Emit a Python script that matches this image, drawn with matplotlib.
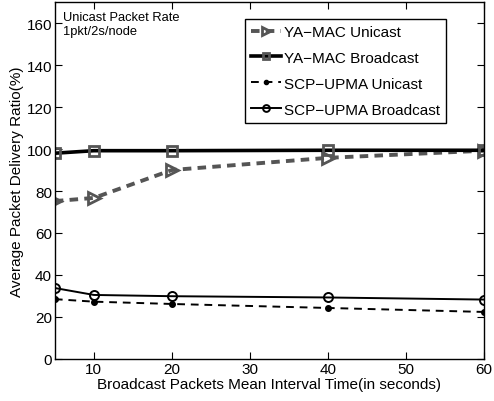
import matplotlib
matplotlib.use("Agg")
import matplotlib.pyplot as plt

x = [5, 10, 20, 40, 60]
ya_uni = [75.2, 76.7, 90.0, 95.8, 99.2]
ya_bc = [98.0, 99.2, 99.2, 99.4, 99.4]
scp_uni = [28.5, 27.3, 26.2, 24.3, 22.4]
scp_bc = [33.8, 30.5, 29.9, 29.3, 28.3]

xticks = [10, 20, 30, 40, 50, 60]
yticks = [0, 20, 40, 60, 80, 100, 120, 140, 160]

plt.rcParams['font.family'] = ['Liberation Sans', 'DejaVu Sans']

fig = plt.figure(figsize=(4.94, 4.02), dpi=100)
ax = fig.add_axes([0.111, 0.1045, 0.869, 0.888])

gray = '#555555'
ax.plot(x, ya_uni, linestyle=(0, (2.2, 1.6)), color=gray, lw=2.8, marker='>',
        ms=8, mfc='none', mec=gray, mew=2.0, label='YA\u2212MAC Unicast')
ax.plot(x, ya_bc, linestyle='-', color='black', lw=2.6, marker='s',
        ms=6.5, mfc='none', mec=gray, mew=2.0, label='YA\u2212MAC Broadcast')
ax.plot(x, scp_uni, linestyle=(0, (4, 3)), color='black', lw=1.4, marker='o',
        ms=4, mfc='black', mec='black', label='SCP\u2212UPMA Unicast')
ax.plot(x, scp_bc, linestyle='-', color='black', lw=1.4, marker='o',
        ms=6.5, mfc='none', mec='black', mew=1.4, label='SCP\u2212UPMA Broadcast')

ax.set_xlim(5, 60)
ax.set_ylim(0, 170)
ax.set_xticks(xticks)
ax.set_yticks(yticks)
ax.tick_params(direction='in', top=True, right=True, labelsize=11, length=5, pad=2)
for s in ax.spines.values():
    s.set_linewidth(1.0)

ax.set_xlabel('Broadcast Packets Mean Interval Time(in seconds)', fontsize=11, labelpad=1)
ax.set_ylabel('Average Packet Delivery Ratio(%)', fontsize=11, labelpad=2)

ax.text(0.018, 0.975, 'Unicast Packet Rate\n1pkt/2s/node', transform=ax.transAxes,
        fontsize=9.3, va='top', ha='left', linespacing=1.25)

leg = ax.legend(loc='upper right', bbox_to_anchor=(0.912, 0.953), fontsize=11,
                fancybox=False, edgecolor='black', framealpha=1,
                handlelength=2.0, handletextpad=0.2, borderpad=0.4,
                labelspacing=0.78, borderaxespad=0, markerscale=0.75)
leg.get_frame().set_linewidth(1.0)

fig.savefig('out.png', dpi=100)
